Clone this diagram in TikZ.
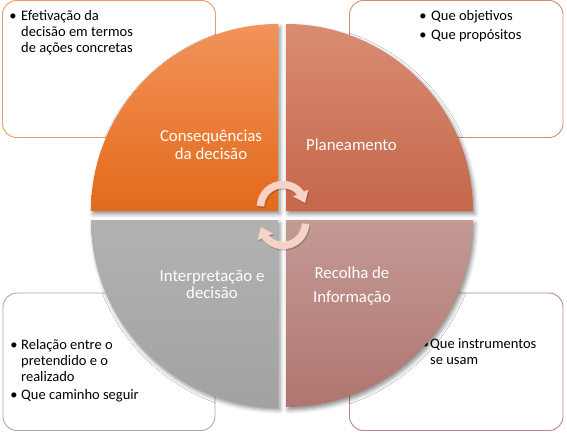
\documentclass[tikz,border=0pt]{standalone}
\usepackage{fontspec}
\setmainfont{Carlito}
\usetikzlibrary{arrows.meta,bending,shadows.blur}
\definecolor{tltop}{HTML}{F2935A}
\definecolor{tlbot}{HTML}{E36A1A}
\definecolor{trtop}{HTML}{D98C72}
\definecolor{trbot}{HTML}{C5674A}
\definecolor{bltop}{HTML}{B2B2B2}
\definecolor{blbot}{HTML}{A2A2A2}
\definecolor{brtop}{HTML}{C49A95}
\definecolor{brbot}{HTML}{B0756F}
\definecolor{tlbord}{HTML}{EE9A62}
\definecolor{trbord}{HTML}{D68B72}
\definecolor{blbord}{HTML}{A8A8A8}
\definecolor{brbord}{HTML}{B98884}
\definecolor{arrowcol}{HTML}{F6D3C6}
\begin{document}
\begin{tikzpicture}[x=1pt,y=1pt,
  infobox/.style={fill=white,line width=0.9pt,rounded corners=14pt},
  quad/.style={blur shadow={shadow xshift=2pt,shadow yshift=-3pt,shadow blur radius=4pt,shadow opacity=45}},
  qtext/.style={text=white,align=center,inner sep=0pt},
  btext/.style={text=black,align=left,inner sep=0pt,anchor=base west,font=\fontsize{14.5}{16}\selectfont},
  bullet/.style={text=black,inner sep=0pt,anchor=base,font=\fontsize{14.5}{16}\selectfont},
  cyclearrow/.style={line width=7.5pt,draw=arrowcol,-{Triangle[width=16pt,length=11pt]}},
  arrowshadow/.style={line width=7.5pt,draw=black,opacity=0.18,-{Triangle[width=16pt,length=11pt]}}]
\useasboundingbox (0,0) rectangle (567,432);
% information boxes
\draw[infobox,draw=tlbord] (2.5,294.5) rectangle (215.5,431.5);
\draw[infobox,draw=trbord] (349.5,294.5) rectangle (563,431.5);
\draw[infobox,draw=blbord] (3,1.5) rectangle (215,139);
\draw[infobox,draw=brbord] (349.5,1.5) rectangle (563,139);
% box texts (multi-line nodes are anchored at the baseline of their last line)
\node[bullet] (tlb1) at (13,411) {•};
\node[btext] (tlt1) at (21,379) {Efetivação da\\decisão em termos\\de ações concretas};
\node[bullet] (trb1) at (423,411.3) {•};
\node[btext] (trt1) at (431,411.3) {Que objetivos};
\node[bullet] (trb2) at (423,392.7) {•};
\node[btext] (trt2) at (431,392.7) {Que propósitos};
\node[bullet] (blb1) at (14,82.5) {•};
\node[btext] (blt1) at (21,50.5) {Relação entre o\\pretendido e o\\realizado};
\node[bullet] (blb2) at (14,33) {•};
\node[btext] (blt2) at (21,33) {Que caminho seguir};
\node[bullet] (brb1) at (425.5,84) {•};
\node[btext] (brt1) at (430,68) {Que instrumentos\\se usam};
% quadrants
\path[quad,top color=tltop,bottom color=tlbot] (278,221) -- (91,221) arc[start angle=180,end angle=90,radius=187] -- cycle;
\path[quad,top color=trtop,bottom color=trbot] (286,221) -- (286,408) arc[start angle=90,end angle=0,radius=187] -- cycle;
\path[quad,top color=bltop,bottom color=blbot] (278,212) -- (278,25) arc[start angle=270,end angle=180,radius=187] -- cycle;
\path[quad,top color=brtop,bottom color=brbot] (286,212) -- (473,212) arc[start angle=0,end angle=-90,radius=187] -- cycle;
% quadrant labels
\node[qtext,anchor=base,font=\fontsize{16.8}{18}\selectfont] (q1) at (211,273) {Consequências\\da decisão};
\node[qtext,anchor=base west,font=\fontsize{16.8}{18}\selectfont] (q2) at (306,282) {Planeamento};
\node[qtext,anchor=base,font=\fontsize{16.8}{16.5}\selectfont] (q3) at (212,133.8) {Interpretação e\\decisão};
\node[qtext,anchor=base,font=\fontsize{16.8}{24}\selectfont] (q4) at (352,130) {Recolha de\\Informação};
% cycle arrows
\coordinate (ca) at (283,225);
\coordinate (cb) at (283,209);
\draw[arrowshadow] ([shift={(1,-1.5)}]ca) ++(178:22.5) arc[start angle=178,end angle=10,radius=22.5];
\draw[arrowshadow] ([shift={(1,-1.5)}]cb) ++(-2:22.5) arc[start angle=-2,end angle=-170,radius=22.5];
\draw[cyclearrow] (ca) ++(178:22.5) arc[start angle=178,end angle=10,radius=22.5];
\draw[cyclearrow] (cb) ++(-2:22.5) arc[start angle=-2,end angle=-170,radius=22.5];
\end{tikzpicture}
\end{document}
